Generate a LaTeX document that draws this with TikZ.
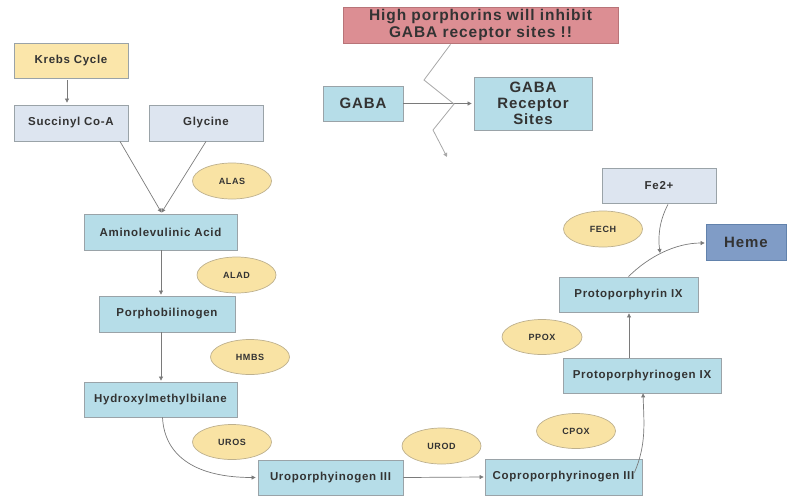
\documentclass[tikz,border=0pt]{standalone}
\usepackage{fontspec}
\setmainfont{Liberation Sans}[LetterSpace=6]
\usetikzlibrary{arrows.meta,calc,shapes.geometric}
\definecolor{boxblue}{HTML}{B6DDE8}
\definecolor{boxgrey}{HTML}{DDE5F0}
\definecolor{boxyellow}{HTML}{FBE6AA}
\definecolor{ellfill}{HTML}{F9E3A4}
\definecolor{elledge}{HTML}{BDB08E}
\definecolor{hemeblue}{HTML}{809CC6}
\definecolor{hemeedge}{HTML}{6282AC}
\definecolor{pinkbox}{HTML}{DC8E93}
\definecolor{pinkedge}{HTML}{B87478}
\definecolor{txt}{HTML}{333333}
\definecolor{edge}{HTML}{9AA3A8}
\definecolor{lin}{HTML}{7A7A7A}
\definecolor{zig}{HTML}{A8A8A8}
\begin{document}
\begin{tikzpicture}[x=1pt,y=-1pt,
  sz/.style 2 args={minimum width=#1pt, minimum height=#2pt},
  base/.style={draw=edge, line width=0.8pt, text=txt, inner sep=0pt, align=center,
    font=\bfseries\fontsize{11.5}{13}\selectfont},
  bluebox/.style={base, fill=boxblue},
  greybox/.style={base, fill=boxgrey},
  yelbox/.style={base, fill=boxyellow},
  bigtext/.style={font=\bfseries\fontsize{15}{16}\selectfont},
  enz/.style={ellipse, draw=elledge, line width=0.7pt, fill=ellfill, text=txt, inner sep=0pt,
    font=\bfseries\fontsize{9}{10}\selectfont},
  arr/.style={draw=lin, line width=0.7pt, -{Triangle[length=4pt,width=4pt]}},
]
\useasboundingbox (0,0) rectangle (791,496);

% boxes
\node[yelbox, sz={114}{35}] (krebs) at (71,60.5) {Krebs Cycle};
\node[greybox, sz={114}{36}] (succ) at (71,123) {Succinyl Co-A};
\node[greybox, sz={114}{36}] (gly) at (206,123) {Glycine};
\node[bluebox, sz={153}{36}] (ala) at (160.5,232) {Aminolevulinic Acid};
\node[bluebox, sz={136}{36}] (pbg) at (167,314) {Porphobilinogen};
\node[bluebox, sz={153}{35}] (hmb) at (160.5,399.5) {Hydroxylmethylbilane};
\node[bluebox, sz={145}{35}] (uro) at (330.5,477.5) {Uroporphyinogen III};
\node[bluebox, sz={157}{36}] (copro) at (563.5,477) {Coproporphyrinogen III};
\node[bluebox, sz={158}{35}] (ppgen) at (642,375.5) {Protoporphyrinogen IX};
\node[bluebox, sz={139}{35}] (ppix) at (628.5,294.5) {Protoporphyrin IX};
\node[base, fill=hemeblue, draw=hemeedge, bigtext, sz={80}{36}] (heme) at (746,242) {Heme};
\node[greybox, sz={114}{35}] (fe) at (659,185.5) {Fe2+};
\node[bluebox, bigtext, sz={80}{35}] (gaba) at (363,103.5) {GABA};
\node[bluebox, bigtext, sz={118}{53}] (gabars) at (533,103.5) {GABA\\Receptor\\Sites};
\node[base, fill=pinkbox, draw=pinkedge, font=\bfseries\fontsize{15.5}{17}\selectfont, sz={275}{36}] (high) at (480.5,25)
  {High porphorins will inhibit\\GABA receptor sites !!};

% enzymes
\node[enz, sz={79}{36}] (alas) at (232,181) {ALAS};
\node[enz, sz={79}{36}] (alad) at (236.5,275) {ALAD};
\node[enz, sz={79}{35}] (hmbs) at (250,357) {HMBS};
\node[enz, sz={79}{35}] (uros) at (232,442) {UROS};
\node[enz, sz={79}{36}] (urod) at (441.5,446) {UROD};
\node[enz, sz={79}{35}] (cpox) at (576,431) {CPOX};
\node[enz, sz={80}{35}] (ppox) at (542,337) {PPOX};
\node[enz, sz={79}{36}] (fech) at (603,229) {FECH};

% connectors
\draw[arr] ($(krebs.south)+(-4,2)$) -- ($(succ.north)+(-4,-2)$);
\coordinate (alain) at ($(ala.north)+(1,-1)$);
\draw[arr] ($(succ.south)+(49,0)$) -- (alain);
\draw[arr] (gly.south) -- (alain);
\draw[arr] ($(ala.south)+(0.5,0)$) -- ($(pbg.north)+(-6,-1)$);
\draw[arr] ($(pbg.south)+(-6,0)$) -- ($(hmb.north)+(0.5,-1)$);
\draw[arr] ($(hmb.south)+(2,0)$) .. controls ($(hmb.south)+(4,40)$) and ($(uro.west)+(-60,0)$) .. ($(uro.west)+(-2,0)$);
\draw[arr] (uro.east) -- ($(copro.west)+(-1,0)$);
\draw[arr] ($(copro.north east)+(-8,14)$) .. controls ($(copro.north east)+(4,-14)$) and ($(ppgen.south)+(2,30)$) .. ($(ppgen.south)+(1,0)$);
\draw[arr] ($(ppgen.north)+(-13,0)$) -- ($(ppix.south)+(0.5,1)$);
\draw[arr] (ppix.north) .. controls ($(ppix.north)+(20,-20)$) and ($(heme.west)+(-30,1)$) .. ($(heme.west)+(-1,1)$);
\coordinate (femeet) at (660,253);
\draw[arr] ($(fe.south)+(9,1)$) .. controls ($(fe.south)+(0,18)$) and ($(femeet)+(-2,-16)$) .. (femeet);
\draw[arr] (gaba.east) -- ($(gabars.west)+(-2,0)$);
\coordinate (z1) at (424,80);
\coordinate (zc) at (454,104);
\coordinate (z2) at (433,130);
\coordinate (zend) at (447,157);
\draw[draw=zig, line width=0.8pt, -{Triangle[length=4pt,width=4pt]}]
  ($(high.south)+(-30,1)$) -- (z1) -- (zc) -- (z2) -- (zend);
\end{tikzpicture}
\end{document}
